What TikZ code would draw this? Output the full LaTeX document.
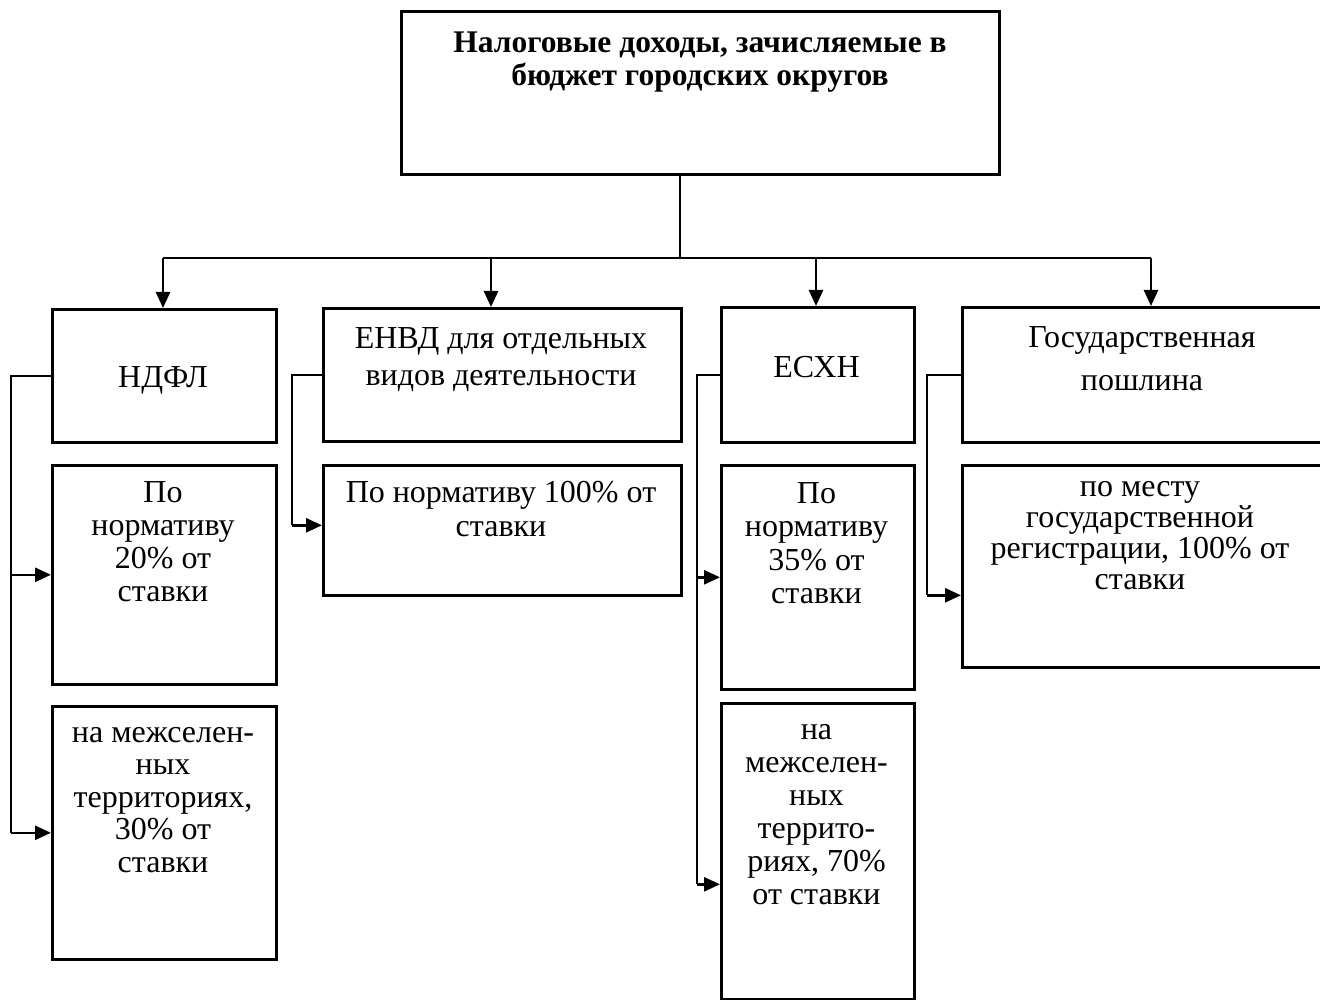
\documentclass[tikz,border=0pt]{standalone}
\usepackage{fontspec}
\setmainfont{Liberation Serif}
\usetikzlibrary{arrows.meta,calc}
\newcommand\tstrut{\rule{0pt}{23pt}}
\begin{document}
\begin{tikzpicture}[x=1pt,y=-1pt,
  box/.style={draw, line width=2.6pt, inner sep=0pt, anchor=north west},
  lbl/.style={inner sep=0pt, anchor=north, align=center, font=\fontsize{32}{33}\selectfont},
  link/.style={line width=2.6pt},
  arr/.style={link, -{Triangle[length=16pt,width=14pt]}}]
\useasboundingbox (0,0) rectangle (1320,1000);

% boxes
\node[box, minimum width=598pt, minimum height=163pt] (top) at (400,10) {};
\node[box, minimum width=224pt, minimum height=133pt] (ndfl) at (51,308) {};
\node[box, minimum width=224pt, minimum height=219pt] (ndfl2) at (51,464) {};
\node[box, minimum width=224pt, minimum height=253pt] (ndfl3) at (51,705) {};
\node[box, minimum width=358pt, minimum height=133pt] (envd) at (322,307) {};
\node[box, minimum width=358pt, minimum height=130pt] (envd2) at (322,464) {};
\node[box, minimum width=193pt, minimum height=135pt] (eskhn) at (720,306) {};
\node[box, minimum width=193pt, minimum height=224pt] (eskhn2) at (720,464) {};
\node[box, minimum width=193pt, minimum height=296pt] (eskhn3) at (720,702) {};
\node[box, minimum width=369pt, minimum height=135pt] (gos) at (961,306) {};
\node[box, minimum width=369pt, minimum height=202pt] (gos2) at (961,464) {};

% texts
\node[lbl, font=\bfseries\fontsize{31.5}{33}\selectfont] (topT) at (700,29)
  {\tstrut Налоговые доходы, зачисляемые в\\бюджет городских округов};
\node[lbl] (ndflT) at (163,364) {\tstrut НДФЛ};
\node[lbl, font=\fontsize{32}{37}\selectfont] (envdT) at (501,325)
  {\tstrut ЕНВД для отдельных\\видов деятельности};
\node[lbl] (eskhnT) at (816.5,354) {\tstrut ЕСХН};
\node[lbl, font=\fontsize{32}{43}\selectfont] (gosT) at (1142,324)
  {\tstrut Государственная\\пошлина};
\node[lbl] (ndfl2T) at (163,479) {\tstrut По\\нормативу\\20\% от\\ставки};
\node[lbl, font=\fontsize{32}{34}\selectfont] (envd2T) at (501,479)
  {\tstrut По нормативу 100\% от\\ставки};
\node[lbl, font=\fontsize{32}{33.5}\selectfont] (eskhn2T) at (816.5,480)
  {\tstrut По\\нормативу\\35\% от\\ставки};
\node[lbl, font=\fontsize{32}{31}\selectfont] (gos2T) at (1140,473)
  {\tstrut по месту\\государственной\\регистрации, 100\% от\\ставки};
\node[lbl, font=\fontsize{32}{32.5}\selectfont] (ndfl3T) at (163,719)
  {\tstrut на межселен-\\ных\\территориях,\\30\% от\\ставки};
\node[lbl] (eskhn3T) at (816.5,716)
  {\tstrut на\\межселен-\\ных\\террито-\\риях, 70\%\\от ставки};

% distribution bus
\coordinate (trunk) at (680,258);
\coordinate (b1) at (163,258);
\coordinate (b2) at (491,258);
\coordinate (b3) at (816,258);
\coordinate (b4) at (1151,258);
\draw[link] (top.south -| trunk) -- (trunk);
\draw[link] (b1) -- (b4);
\draw[arr] (b1) -- (b1 |- ndfl.north);
\draw[arr] (b2) -- (b2 |- envd.north);
\draw[arr] (b3) -- (b3 |- eskhn.north);
\draw[arr] (b4) -- (b4 |- gos.north);

% side feeders
\coordinate (l1) at (11,0);
\coordinate (l2) at (292,0);
\coordinate (l3) at (697,0);
\coordinate (l4) at (927,0);
\coordinate (e2a) at ($(envd2.west)+(0,-5)$);
\coordinate (e3a) at ($(eskhn3.west)+(0,33)$);
\coordinate (g2a) at ($(gos2.west)+(0,29)$);

\draw[link] (ndfl.west) -| (l1 |- ndfl3.west);
\draw[arr] (l1 |- ndfl2.west) -- (ndfl2.west);
\draw[arr] (l1 |- ndfl3.west) -- (ndfl3.west);

\draw[link] (envd.west) -| (l2 |- e2a);
\draw[arr] (l2 |- e2a) -- (e2a);

\draw[link] (eskhn.west) -| (l3 |- e3a);
\draw[arr] (l3 |- eskhn2.west) -- (eskhn2.west);
\draw[arr] (l3 |- e3a) -- (e3a);

\draw[link] (gos.west) -| (l4 |- g2a);
\draw[arr] (l4 |- g2a) -- (g2a);
\end{tikzpicture}
\end{document}
